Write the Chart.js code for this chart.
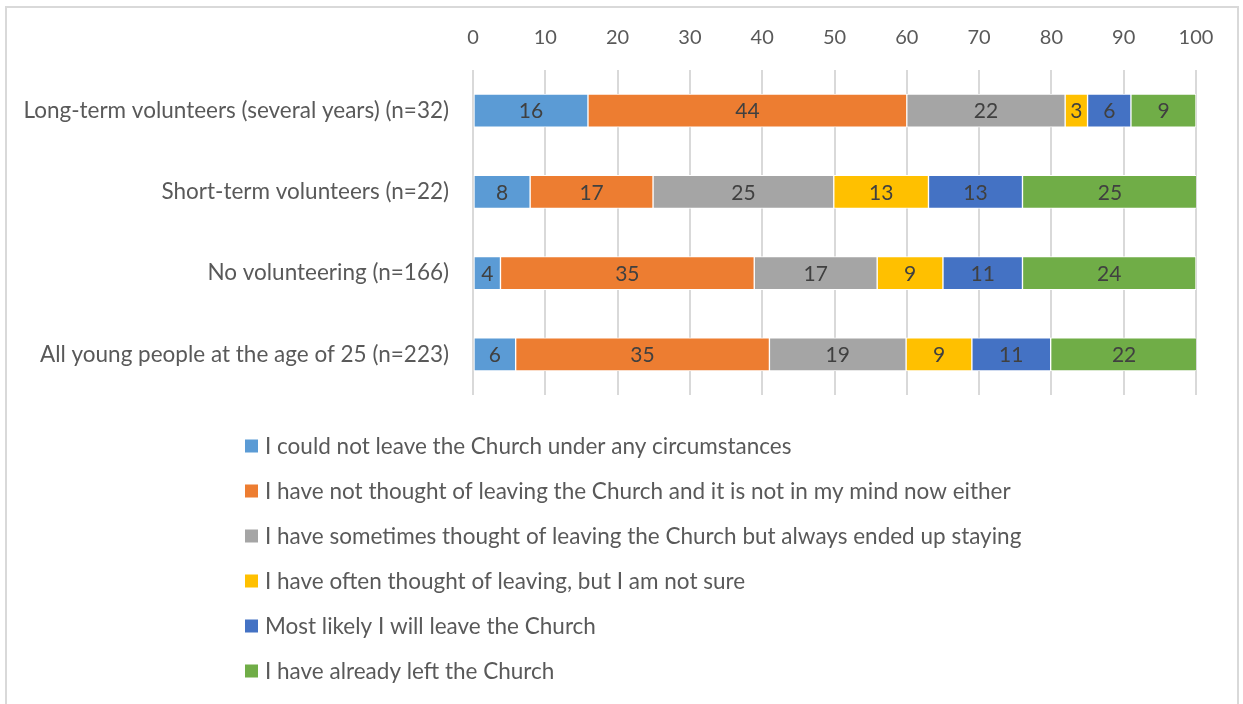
<!DOCTYPE html>
<html>
<head>
<meta charset="utf-8">
<script src="https://cdn.jsdelivr.net/npm/chart.js@4.4.1/dist/chart.umd.min.js"></script>
<style>
  html, body { margin: 0; padding: 0; background: #fff; }
  #wrap { position: relative; width: 1243px; height: 704px; overflow: hidden; }
  #frame { position: absolute; left: 5px; top: 6px; width: 1234px; height: 740px; border: 2px solid #d9d9d9; box-sizing: border-box; }
  canvas { position: absolute; left: 0; top: 0; }
</style>
</head>
<body>
<div id="wrap">
  <div id="frame"></div>
  <canvas id="c" width="1243" height="704"></canvas>
</div>
<script>
// Categories (top to bottom)
const categories = [
  "Long-term volunteers (several years) (n=32)",
  "Short-term volunteers (n=22)",
  "No volunteering (n=166)",
  "All young people at the age of 25 (n=223)"
];
const seriesNames = [
  "I could not leave the Church under any circumstances",
  "I have not thought of leaving the Church and it is not in my mind now either",
  "I have sometimes thought of leaving the Church but always ended up staying",
  "I have often thought of leaving, but I am not sure",
  "Most likely I will leave the Church",
  "I have already left the Church"
];
// Segment lengths (as drawn, %)
const couldNot   = [15.9, 7.9, 3.8, 5.9];
const notThought = [44.1, 17.0, 35.1, 35.1];
const sometimes  = [21.9, 25.0, 17.0, 18.9];
const often      = [3.1, 13.1, 9.1, 9.1];
const mostLikely = [6.0, 13.0, 11.0, 10.9];
const already    = [9.0, 24.2, 24.0, 20.3];
// Printed data labels
const couldNotLbl   = [16, 8, 4, 6];
const notThoughtLbl = [44, 17, 35, 35];
const sometimesLbl  = [22, 25, 17, 19];
const oftenLbl      = [3, 13, 9, 9];
const mostLikelyLbl = [6, 13, 11, 11];
const alreadyLbl    = [9, 25, 24, 22];
// Axis ticks
const xTicks = [0, 10, 20, 30, 40, 50, 60, 70, 80, 90, 100];

const colors = ["#5B9BD5", "#ED7D31", "#A5A5A5", "#FFC000", "#4472C4", "#70AD47"];
const seriesData = [couldNot, notThought, sometimes, often, mostLikely, already];
const seriesLbls = [couldNotLbl, notThoughtLbl, sometimesLbl, oftenLbl, mostLikelyLbl, alreadyLbl];

const FONT = "Lato, 'Open Sans', sans-serif";

const dataLabelPlugin = {
  id: 'dataLabels',
  afterDatasetsDraw(chart) {
    const ctx = chart.ctx;
    ctx.save();
    ctx.font = "21px " + FONT;
    ctx.fillStyle = "#404040";
    ctx.textAlign = "center";
    ctx.textBaseline = "middle";
    chart.data.datasets.forEach((ds, i) => {
      const meta = chart.getDatasetMeta(i);
      meta.data.forEach((el, j) => {
        const cx = (el.x + el.base) / 2;
        ctx.fillText(String(ds.shown[j]), cx, el.y + 1);
      });
    });
    ctx.restore();
  }
};

const legendPlugin = {
  id: 'vlegend',
  afterDraw(chart) {
    const ctx = chart.ctx;
    ctx.save();
    ctx.font = "22.5px " + FONT;
    ctx.textBaseline = "middle";
    ctx.textAlign = "left";
    const x0 = 245, y0 = 446, step = 45, box = 13;
    chart.data.datasets.forEach((ds, i) => {
      const y = y0 + i * step;
      ctx.fillStyle = ds.backgroundColor;
      ctx.fillRect(x0, y - box / 2, box, box);
      ctx.fillStyle = "#595959";
      ctx.fillText(ds.label, x0 + box + 7, y + 1);
    });
    ctx.restore();
  }
};

new Chart(document.getElementById('c'), {
  type: 'bar',
  data: {
    labels: categories,
    datasets: seriesNames.map((name, i) => ({
      label: name,
      data: seriesData[i],
      shown: seriesLbls[i],
      backgroundColor: colors[i],
      borderColor: "#ffffff",
      borderWidth: 1,
      borderSkipped: false,
      barThickness: 33
    }))
  },
  options: {
    indexAxis: 'y',
    responsive: false,
    animation: false,
    events: [],
    layout: { padding: { left: 0, right: 47, top: 0, bottom: 309 } },
    plugins: { legend: { display: false }, tooltip: { enabled: false } },
    scales: {
      x: {
        position: 'top',
        stacked: true,
        min: 0, max: 100,
        afterBuildTicks(scale) { scale.ticks = xTicks.map(v => ({ value: v })); },
        afterFit(scale) { scale.height = 70; },
        grid: { color: "#d9d9d9", lineWidth: 2, drawTicks: false },
        border: { display: false },
        ticks: { color: "#595959", font: { size: 20, family: FONT }, padding: 20 }
      },
      y: {
        stacked: true,
        afterFit(scale) { scale.width = 473; },
        grid: { display: false, drawTicks: false },
        border: { display: false },
        ticks: { color: "#595959", font: { size: 22.5, family: FONT }, padding: 24 }
      }
    }
  },
  plugins: [dataLabelPlugin, legendPlugin]
});
</script>
</body>
</html>
